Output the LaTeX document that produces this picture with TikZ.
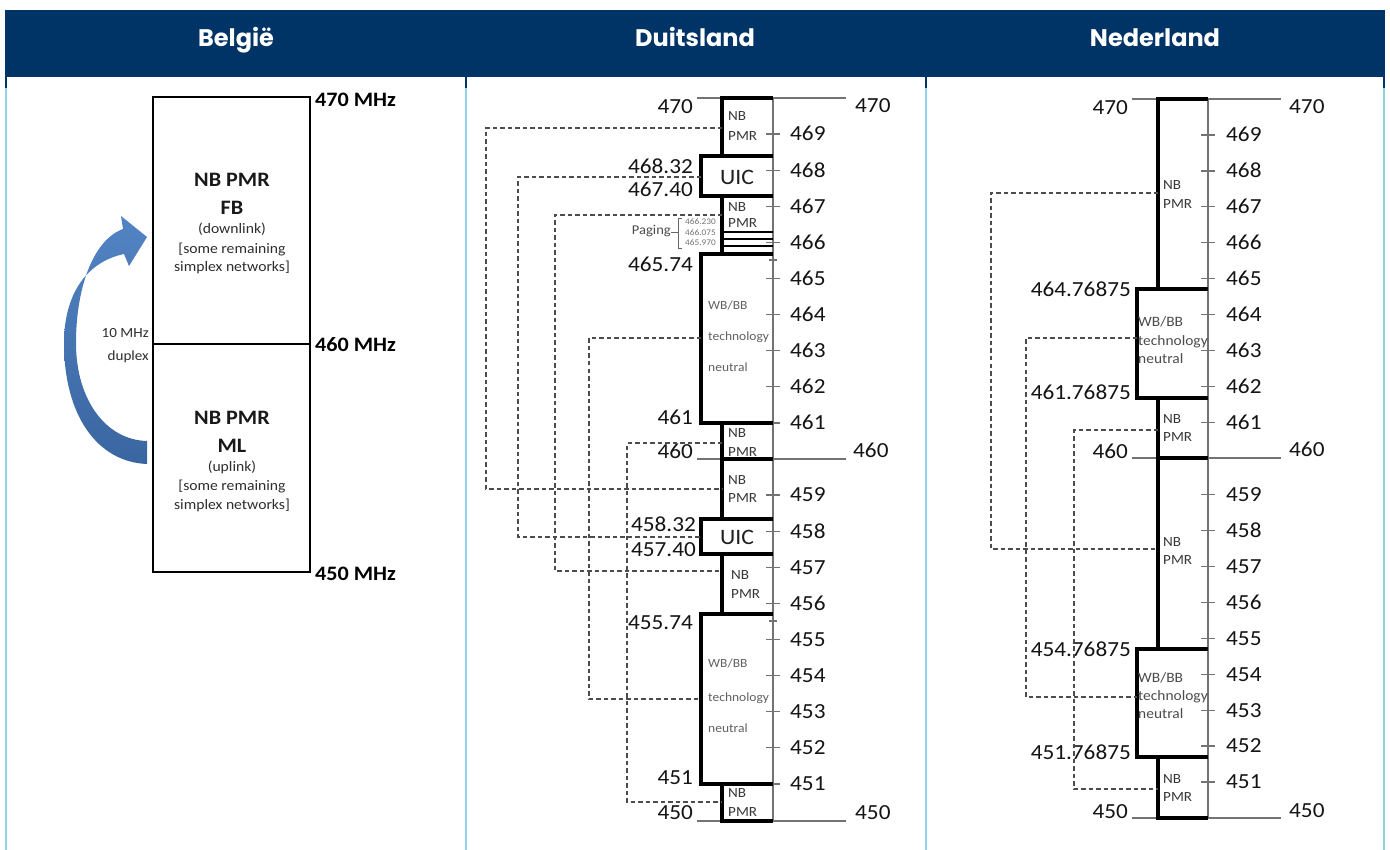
\documentclass[tikz,border=0pt]{standalone}
\usepackage{fontspec}
\setmainfont{Carlito}[FakeStretch=1.08]
\newfontfamily\hdrfont{Poppins}
\definecolor{navy}{HTML}{003366}
\definecolor{sepblue}{HTML}{93D3E6}
\definecolor{arrtop}{HTML}{5283C4}
\definecolor{arrbot}{HTML}{3A66A0}
\tikzset{
  hdr/.style={font=\hdrfont\bfseries\fontsize{24}{24}\selectfont, text=white, inner sep=0pt, text height=17pt, text depth=0pt},
  num/.style={font=\fontsize{21.5}{21.5}\selectfont, text=black!92, inner sep=0pt, text height=13.7pt, text depth=0pt},
  lbl/.style={font=\fontsize{14}{14}\selectfont, text=black!78, inner sep=0pt, text height=9pt, text depth=0pt, anchor=west},
  uic/.style={font=\fontsize{22}{22}\selectfont, text=black!88, inner sep=0pt, text height=14.2pt, text depth=0pt},
  wbg/.style={font=\fontsize{12.5}{12.5}\selectfont, text=black!62, inner sep=0pt, text height=8pt, text depth=0pt, anchor=west},
  wbn/.style={font=\fontsize{14.3}{14.3}\selectfont, text=black!70, inner sep=0pt, text height=9.2pt, text depth=0pt, anchor=west},
  pagn/.style={font=\fontsize{8.6}{8.6}\selectfont, text=black!55, inner sep=0pt, text height=5.5pt, text depth=0pt, anchor=west},
  pag/.style={font=\fontsize{13.5}{13.5}\selectfont, text=black!70, inner sep=0pt, text height=8.7pt, text depth=0pt, anchor=east},
  bmhz/.style={font=\bfseries\fontsize{20.5}{20.5}\selectfont, text=black, inner sep=0pt, text height=13pt, text depth=0pt, anchor=west},
  bbig/.style={font=\bfseries\fontsize{20.5}{20.5}\selectfont, text=black!90, inner sep=0pt, text height=13pt, text depth=0pt},
  bsmall/.style={font=\fontsize{14.5}{14.5}\selectfont, text=black!82, inner sep=0pt, text height=9.3pt, text depth=0pt},
  bdup/.style={font=\fontsize{14}{14}\selectfont, text=black!82, inner sep=0pt, text height=9pt, text depth=0pt, anchor=east},
  boxline/.style={line width=3.3pt, black, line join=miter},
  axisline/.style={line width=1.3pt, black!55},
  conn/.style={line width=1.2pt, black!70, dash pattern=on 4.5pt off 3pt},
  brk/.style={line width=0.9pt, black!60},
  bbox/.style={line width=1.3pt, black},
}
\begin{document}
\begin{tikzpicture}[x=1pt,y=-1pt]
\useasboundingbox (0,0) rectangle (1390,850);
\fill[white] (0,0) rectangle (1390,850);

% ---------- header and column borders ----------
\fill[navy] (5,10) rectangle (1385,77);
\foreach \x in {6,466,926,1384} {
  \draw[navy, line width=2pt] (\x,77) -- (\x,88);
  \draw[sepblue, line width=2pt] (\x,88) -- (\x,850);
}
\node[hdr] (hB) at (236,38) {België};
\node[hdr] (hD) at (695,38) {Duitsland};
\node[hdr] (hN) at (1155,38) {Nederland};

% ---------- Belgie ----------
\draw[bbox] (153,97) rectangle (310,572);
\draw[bbox] (153,344) -- (310,344);
\node[bmhz] (m470) at (315,100) {470 MHz};
\node[bmhz] (m460) at (315,345) {460 MHz};
\node[bmhz] (m450) at (315,574) {450 MHz};
\node[bbig] (bt1) at (232,180) {NB PMR};
\node[bbig] (bt2) at (232,208) {FB};
\node[bsmall] (bt3) at (232,229) {(downlink)};
\node[bsmall] (bt4) at (232,249) {[some remaining};
\node[bsmall] (bt5) at (232,267) {simplex networks]};
\node[bbig] (bb1) at (232,418) {NB PMR};
\node[bbig] (bb2) at (232,446) {ML};
\node[bsmall] (bb3) at (232,467) {(uplink)};
\node[bsmall] (bb4) at (232,486) {[some remaining};
\node[bsmall] (bb5) at (232,505) {simplex networks]};
\node[bdup] (dup1) at (149,333) {10 MHz};
\node[bdup] (dup2) at (149,356) {duplex};
\shade[top color=arrtop, bottom color=arrbot]
  (147,464) .. controls (97,462) and (64,415) .. (64,343)
  .. controls (64,295) and (86,262) .. (124,254)
  -- (129,266) -- (147,237) -- (121,216) -- (123,229)
  .. controls (93,240) and (76,288) .. (76,343)
  .. controls (76,400) and (106,440) .. (147,441) -- cycle;

% ---------- Duitsland ----------
\foreach \y in {98,459,821} \draw[axisline] (697,\y) -- (846,\y);
\draw[axisline] (773,98) -- (773,821);
\foreach \f in {469,468,467,466,465,464,463,462,461,459,458,457,456,455,454,453,452,451} {
  \pgfmathsetmacro\yy{98+(470-\f)*36.1}
  \draw[axisline] (766,\yy) -- (780,\yy);
  \node[num, anchor=west] (gt\f) at (790,\yy) {\f};
}
\draw[axisline] (769,260) -- (777,260);
\draw[axisline] (769,621) -- (777,621);
\foreach \l/\t/\b in {722/98/156, 701/156/196, 722/196/254, 701/254/423, 722/423/459, 722/459/519, 701/519/554, 722/554/614, 701/614/784, 722/784/821}
  \draw[boxline] (773,\t) -- (\l,\t) -- (\l,\b) -- (773,\b);
\foreach \y in {232,239,246} \draw[boxline, line width=2.4pt] (722,\y) -- (773,\y);
% left labels
\node[num, anchor=east] (gl470) at (693,107) {470};
\node[num, anchor=east] (gl46832) at (693,167) {468.32};
\node[num, anchor=east] (gl46740) at (693,190) {467.40};
\node[num, anchor=east] (gl46574) at (693,265) {465.74};
\node[num, anchor=east] (gl461) at (693,418) {461};
\node[num, anchor=east] (gl460) at (693,452) {460};
\node[num, anchor=east] (gl45832) at (696,525) {458.32};
\node[num, anchor=east] (gl45740) at (696,550) {457.40};
\node[num, anchor=east] (gl45574) at (693,623) {455.74};
\node[num, anchor=east] (gl451) at (693,778) {451};
\node[num, anchor=east] (gl450) at (693,813) {450};
\node[num, anchor=west] (gr470) at (855,106) {470};
\node[num, anchor=west] (gr460) at (853,451) {460};
\node[num, anchor=west] (gr450) at (855,813) {450};
% block texts
\node[lbl] (g1a) at (728,116) {NB};
\node[lbl] (g1b) at (728,136) {PMR};
\node[uic] (g2) at (737,177) {UIC};
\node[lbl] (g3a) at (728,207) {NB};
\node[lbl] (g3b) at (728,223) {PMR};
\node[wbg] (g4a) at (708,306) {WB/BB};
\node[wbg] (g4b) at (708,337) {technology};
\node[wbg] (g4c) at (708,367) {neutral};
\node[lbl] (g5a) at (728,433) {NB};
\node[lbl] (g5b) at (728,452) {PMR};
\node[lbl] (g6a) at (728,480) {NB};
\node[lbl] (g6b) at (728,498) {PMR};
\node[uic] (g7) at (737,537) {UIC};
\node[lbl] (g8a) at (731,575) {NB};
\node[lbl] (g8b) at (731,594) {PMR};
\node[wbg] (g9a) at (708,663) {WB/BB};
\node[wbg] (g9b) at (708,697) {technology};
\node[wbg] (g9c) at (708,728) {neutral};
\node[lbl] (g10a) at (728,793) {NB};
\node[lbl] (g10b) at (728,812) {PMR};
% paging
\node[pag] (paging) at (671,230) {Paging};
\draw[brk] (682,218) -- (678.5,218) -- (678.5,248) -- (682,248);
\draw[brk] (paging.east) ++(0,2) -- (678.5,232);
\node[pagn] (p1) at (685,222) {466.230};
\node[pagn] (p2) at (685,232.5) {466.075};
\node[pagn] (p3) at (685,243) {465.970};
% dashed connectors
\coordinate (ga1) at (722,128); \coordinate (ga2) at (722,489);
\coordinate (gb1) at (701,177); \coordinate (gb2) at (701,537);
\coordinate (gc1) at (722,215); \coordinate (gc2) at (722,571);
\coordinate (gd1) at (701,338); \coordinate (gd2) at (701,699);
\coordinate (ge1) at (722,443); \coordinate (ge2) at (722,802);
\draw[conn] (ga1) -- (486,128) |- (ga2);
\draw[conn] (gb1) -- (518,177) |- (gb2);
\draw[conn] (gc1) -- (555,215) |- (gc2);
\draw[conn] (gd1) -- (589,338) |- (gd2);
\draw[conn] (ge1) -- (627,443) |- (ge2);

% ---------- Nederland ----------
\foreach \y in {99,458,818} \draw[axisline] (1132,\y) -- (1281,\y);
\draw[axisline] (1208,99) -- (1208,818);
\foreach \f in {469,468,467,466,465,464,463,462,461,459,458,457,456,455,454,453,452,451} {
  \pgfmathsetmacro\yy{99+(470-\f)*35.95}
  \draw[axisline] (1201,\yy) -- (1215,\yy);
  \node[num, anchor=west] (nt\f) at (1226,\yy) {\f};
}
\foreach \l/\t/\b in {1158/99/289, 1137/289/398, 1158/398/458, 1158/458/649, 1137/649/757, 1158/757/818}
  \draw[boxline] (1208,\t) -- (\l,\t) -- (\l,\b) -- (1208,\b);
\node[num, anchor=east] (nl470) at (1128,108) {470};
\node[num, anchor=east] (nl464) at (1131,290) {464.76875};
\node[num, anchor=east] (nl461) at (1131,393) {461.76875};
\node[num, anchor=east] (nl460) at (1128,452) {460};
\node[num, anchor=east] (nl454) at (1131,650) {454.76875};
\node[num, anchor=east] (nl451) at (1131,753) {451.76875};
\node[num, anchor=east] (nl450) at (1128,812) {450};
\node[num, anchor=west] (nr470) at (1289,107) {470};
\node[num, anchor=west] (nr460) at (1289,450) {460};
\node[num, anchor=west] (nr450) at (1289,811) {450};
\node[lbl] (n1a) at (1163,185) {NB};
\node[lbl] (n1b) at (1163,204) {PMR};
\node[wbn] (n2a) at (1138,322) {WB/BB};
\node[wbn] (n2b) at (1138,341) {technology};
\node[wbn] (n2c) at (1138,359) {neutral};
\node[lbl] (n3a) at (1163,419) {NB};
\node[lbl] (n3b) at (1163,437) {PMR};
\node[lbl] (n4a) at (1163,542) {NB};
\node[lbl] (n4b) at (1163,560) {PMR};
\node[wbn] (n5a) at (1138,678) {WB/BB};
\node[wbn] (n5b) at (1138,696) {technology};
\node[wbn] (n5c) at (1138,714) {neutral};
\node[lbl] (n6a) at (1163,779) {NB};
\node[lbl] (n6b) at (1163,797) {PMR};
\coordinate (na1) at (1158,193); \coordinate (na2) at (1158,549);
\coordinate (nb1) at (1137,338); \coordinate (nb2) at (1137,697);
\coordinate (nc1) at (1158,430); \coordinate (nc2) at (1158,789);
\draw[conn] (na1) -- (991,193) |- (na2);
\draw[conn] (nb1) -- (1026,338) |- (nb2);
\draw[conn] (nc1) -- (1074,430) |- (nc2);
\end{tikzpicture}
\end{document}
